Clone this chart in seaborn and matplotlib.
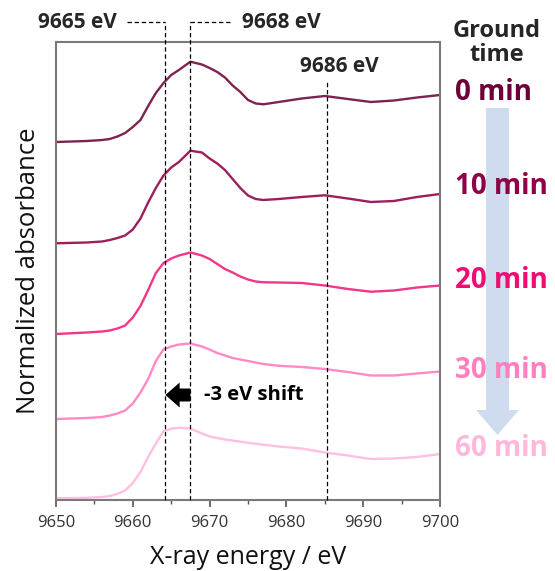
import numpy as np
import pandas as pd
import matplotlib
matplotlib.use("Agg")
import matplotlib.pyplot as plt
from matplotlib.patches import FancyArrow
import seaborn as sns

# energy grid (eV) and stacked normalized absorbance
energy = [9650, 9654, 9656, 9657, 9658, 9659, 9660, 9661, 9662, 9663, 9664, 9665, 9666, 9667.5,
          9669, 9670, 9671, 9672, 9673, 9674, 9675, 9676, 9677, 9679, 9682, 9685,
          9688, 9691, 9694, 9697, 9700]

abs_0min = [3.58, 3.59, 3.60, 3.61, 3.635, 3.67, 3.73, 3.80, 3.94, 4.07, 4.17, 4.25, 4.30, 4.383,
            4.355, 4.32, 4.28, 4.225, 4.145, 4.08, 4.00, 3.965, 3.957, 3.98, 4.015, 4.04,
            4.01, 3.98, 3.995, 4.025, 4.05]
abs_10min = [2.567, 2.575, 2.585, 2.60, 2.62, 2.645, 2.705, 2.815, 2.975, 3.12, 3.245, 3.325, 3.38, 3.493,
             3.475, 3.415, 3.365, 3.30, 3.21, 3.12, 3.045, 3.01, 3.00, 3.01, 3.03, 3.047,
             3.015, 2.98, 2.99, 3.03, 3.06]
abs_20min = [1.66, 1.675, 1.685, 1.695, 1.715, 1.745, 1.825, 1.94, 2.10, 2.27, 2.37, 2.415, 2.445, 2.475,
             2.445, 2.41, 2.36, 2.31, 2.275, 2.235, 2.205, 2.185, 2.177, 2.175, 2.17, 2.145,
             2.11, 2.083, 2.095, 2.125, 2.145]
abs_30min = [0.81, 0.82, 0.83, 0.845, 0.865, 0.895, 0.965, 1.075, 1.21, 1.39, 1.507, 1.535, 1.555, 1.565,
             1.535, 1.505, 1.47, 1.445, 1.42, 1.405, 1.39, 1.375, 1.36, 1.342, 1.33, 1.31,
             1.28, 1.245, 1.245, 1.265, 1.285]
abs_60min = [0.017, 0.022, 0.03, 0.04, 0.062, 0.095, 0.17, 0.28, 0.43, 0.565, 0.688, 0.713, 0.723, 0.715,
             0.665, 0.635, 0.62, 0.605, 0.595, 0.583, 0.572, 0.562, 0.553, 0.535, 0.515, 0.475,
             0.445, 0.41, 0.415, 0.43, 0.46]

times = ["0 min", "10 min", "20 min", "30 min", "60 min"]
line_colors = ["#7d2352", "#9c1f5c", "#f0388a", "#ff8ac5", "#ffbfe0"]
text_colors = ["#6d0036", "#8f0048", "#ec0f73", "#ff7fbf", "#ffb8dc"]

marker_E = [9664.2, 9667.5, 9685.3]
marker_txt = ["9665 eV", "9668 eV", "9686 eV"]

series = [abs_0min, abs_10min, abs_20min, abs_30min, abs_60min]
df = pd.concat([pd.DataFrame({"energy": energy, "absorbance": s, "time": t})
                for s, t in zip(series, times)], ignore_index=True)

sns.set_theme(style="white")
plt.rcParams["font.family"] = ["Open Sans", "DejaVu Sans"]
plt.rcParams["lines.solid_joinstyle"] = "round"

W, H = 555, 571
fig = plt.figure(figsize=(W / 100, H / 100), dpi=100)
L, R, T, B = 56, 440, 42, 500
ax = fig.add_axes([L / W, 1 - B / H, (R - L) / W, (B - T) / H])

sns.lineplot(data=df, x="energy", y="absorbance", hue="time", palette=line_colors,
             hue_order=times, sort=False, estimator=None, legend=False, lw=1.7, ax=ax)

ax.set_xlim(9650, 9700)
ax.set_ylim(0, 4.58)
ax.set_yticks([])
ax.set_xticks(np.arange(9650, 9701, 10))
ax.set_xticks(np.arange(9655, 9700, 10), minor=True)
ax.tick_params(axis="x", which="major", direction="out", length=5, width=1.2,
               color="#555555", labelsize=12, labelcolor="#333333", pad=6, bottom=True)
ax.tick_params(axis="x", which="minor", direction="out", length=3, width=1.0,
               color="#555555", bottom=True)
for sp in ax.spines.values():
    sp.set_color("#7a7a7a")
    sp.set_linewidth(1.5)
ax.set_xlabel("X-ray energy / eV", fontsize=18, color="#111111", labelpad=10)
ax.set_ylabel("Normalized absorbance", fontsize=18.5, color="#111111", labelpad=11)

# dashed guide lines
dash = (0, (3.5, 2.2))
top_hi = (B - 22) / 100
top_lo = (B - 81) / 100
for e, ytop in zip(marker_E, [top_hi, top_hi, top_lo]):
    ax.plot([e, e], [0, ytop], color="black", lw=0.9, ls=dash, clip_on=False, zorder=3)
ax.plot([9659.2, marker_E[0]], [top_hi, top_hi], color="black", lw=0.9, ls=dash, clip_on=False)
ax.plot([marker_E[1], 9672.9], [top_hi, top_hi], color="black", lw=0.9, ls=dash, clip_on=False)

# shift arrow
ax.add_patch(FancyArrow(9667.5, 1.05, -3.25, 0, width=0.13, head_width=0.25,
                        head_length=1.85, length_includes_head=True,
                        color="black", lw=0, zorder=4))
ax.text(9669.3, 1.05, "-3 eV shift", fontsize=14.5, fontweight="bold",
        ha="left", va="center", color="black")

# overlay in pixel coordinates for the outer annotations
ov = fig.add_axes([0, 0, 1, 1], zorder=5)
ov.set_xlim(0, W)
ov.set_ylim(H, 0)
ov.axis("off")
ov.patch.set_alpha(0)

ov.text(77, 22, marker_txt[0], fontsize=15, fontweight="bold", ha="center", va="center")
ov.text(281, 22, marker_txt[1], fontsize=15, fontweight="bold", ha="center", va="center")
ov.text(339, 67, marker_txt[2], fontsize=15, fontweight="bold", ha="center", va="center")

ov.add_patch(FancyArrow(497.5, 108, 0, 327, width=23, head_width=43, head_length=25,
                        length_includes_head=True, color="#cfdcf0", lw=0, zorder=1))
ov.text(497, 43, "Ground\ntime", fontsize=17, fontweight="bold", ha="center",
        va="center", linespacing=1.0, zorder=3)
for t, c, y in zip(times, text_colors, [93, 187, 281, 370, 448]):
    ov.text(455, y, t, fontsize=20, fontweight="bold", color=c, ha="left",
            va="center", zorder=3)

fig.savefig("out.png", dpi=100)
